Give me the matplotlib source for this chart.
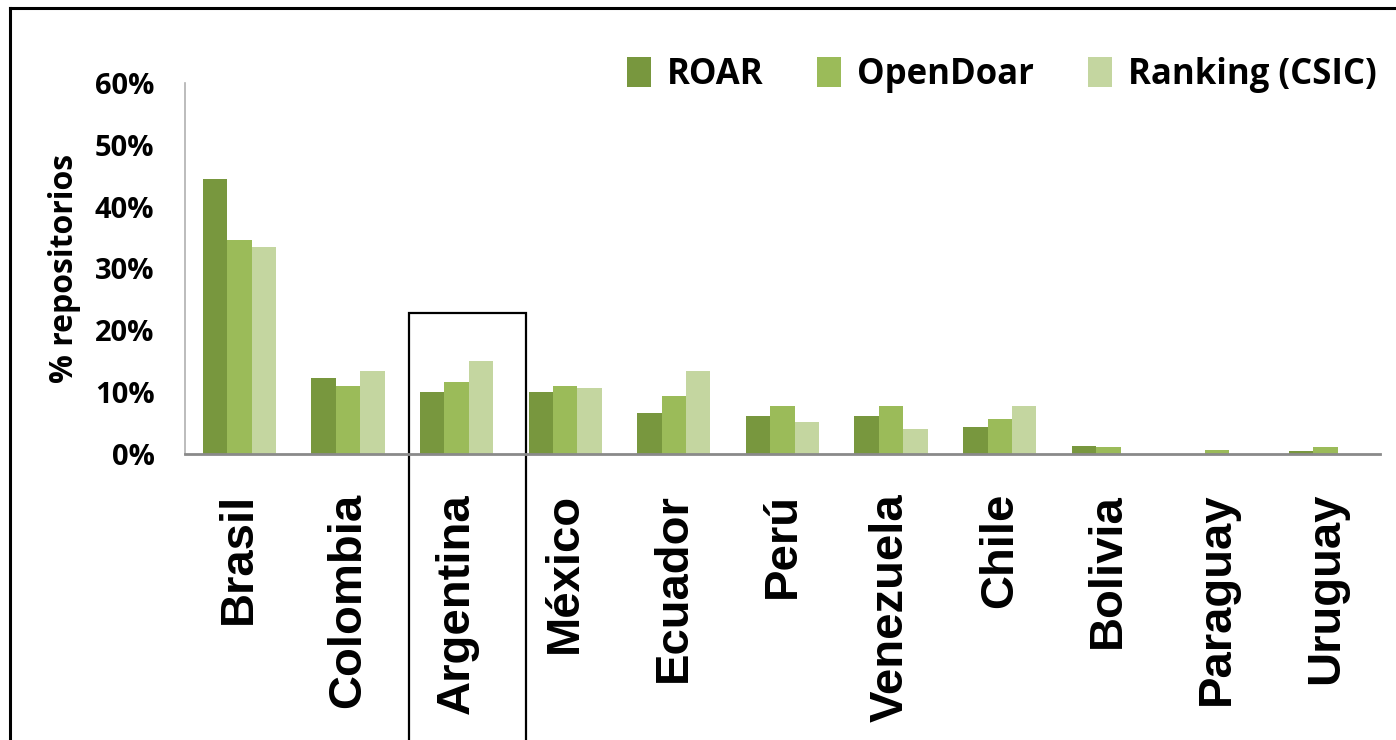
import matplotlib
matplotlib.use("Agg")
import matplotlib.pyplot as plt
from matplotlib.patches import Rectangle
from matplotlib.ticker import FuncFormatter
import numpy as np

paises = ["Brasil", "Colombia", "Argentina", "México", "Ecuador", "Perú",
          "Venezuela", "Chile", "Bolivia", "Paraguay", "Uruguay"]
roar = [44.5, 12.3, 10.0, 10.0, 6.7, 6.2, 6.2, 4.4, 1.3, 0.0, 0.5]
opendoar = [34.6, 11.0, 11.6, 11.0, 9.4, 7.8, 7.8, 5.7, 1.2, 0.6, 1.1]
csic = [33.5, 13.4, 15.0, 10.7, 13.4, 5.1, 4.0, 7.8, 0.0, 0.0, 0.0]
series = ["ROAR", "OpenDoar", "Ranking (CSIC)"]
colores = ["#78973e", "#9bbb59", "#c4d6a0"]
resaltado = "Argentina"

fig = plt.figure(figsize=(13.96, 7.4), dpi=100)
ax = fig.add_axes([0.1325, 0.3865, 0.856, 0.5015])

x = np.arange(len(paises))
w = 0.225
for i, (vals, nombre, c) in enumerate(zip([roar, opendoar, csic], series, colores)):
    ax.bar(x + (i - 1) * w, np.array(vals) / 100, w, color=c, label=nombre)

ax.set_xlim(-0.5, len(paises) - 0.5)
ax.set_ylim(0, 0.6)
ax.set_yticks(np.arange(0, 0.61, 0.1))
ax.yaxis.set_major_formatter(FuncFormatter(lambda v, p: "%d%%" % round(v * 100)))
for t in ax.get_yticklabels():
    t.set_fontfamily("Open Sans")
    t.set_fontweight("bold")
    t.set_fontsize(21)
ax.tick_params(axis="y", length=0, pad=22)
ax.tick_params(axis="x", length=0, pad=28)
ax.set_xticks(x)
ax.set_xticklabels(paises, rotation=90, fontsize=34, fontweight="bold",
                   family="Liberation Sans", va="top", ha="center")

for s in ["top", "right"]:
    ax.spines[s].set_visible(False)
ax.spines["left"].set_color("#b0b0b0")
ax.spines["bottom"].set_color("#8a8a8a")
ax.spines["left"].set_linewidth(1.2)
ax.spines["bottom"].set_linewidth(2)

ax.set_ylabel("% repositorios", fontsize=23, fontweight="bold", family="Open Sans")
ax.yaxis.set_label_coords(-0.087, 0.5)

# recuadro sobre Argentina
k = paises.index(resaltado)
ax.add_patch(Rectangle((k - 0.5 + 0.063, -0.5), 1.077, 0.5 + 0.2285, fill=False,
                       edgecolor="black", linewidth=1.6, clip_on=False))

leg = ax.legend(loc="center right", bbox_to_anchor=(0.986, 0.899),
                bbox_transform=fig.transFigure, ncol=3, frameon=False,
                prop={"family": "Open Sans", "weight": "bold", "size": 25},
                handlelength=0.7, handleheight=0.95, handletextpad=0.45,
                columnspacing=1.55, borderpad=0, borderaxespad=0)

# marco exterior
fig.add_artist(plt.Line2D([0.0072, 0.0072], [0, 0.989], color="black", lw=2.2,
                          transform=fig.transFigure))
fig.add_artist(plt.Line2D([0.0072, 1], [0.989, 0.989], color="black", lw=2.2,
                          transform=fig.transFigure))

fig.savefig("out.png", dpi=100)
